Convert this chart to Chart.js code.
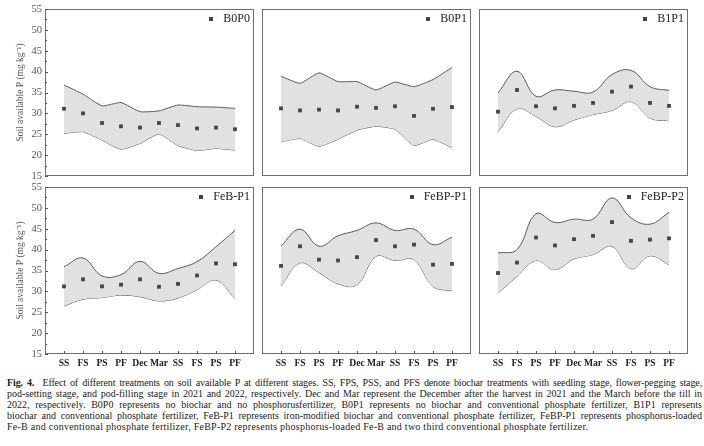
<!DOCTYPE html>
<html>
<head>
<meta charset="utf-8">
<script src="https://cdn.jsdelivr.net/npm/chart.js@4.4.1/dist/chart.umd.min.js"></script>
<style>
  html, body { margin: 0; padding: 0; background: #fff; }
  body { width: 704px; height: 446px; position: relative; overflow: hidden; }
  canvas { position: absolute; }
  #caption { position: absolute; left: 7px; top: 377px; width: 695px; font: 10px/11px "Liberation Serif", serif; color: #222; }
  #caption div { text-align: justify; text-align-last: justify; }
  #caption div.first { letter-spacing: -0.12px; }
  #caption div.last { text-align-last: left; letter-spacing: 0.25px; }
</style>
</head>
<body>
<div id="caption">
  <div class="first"><b>Fig. 4.</b>&nbsp; Effect of different treatments on soil available P at different stages. SS, FPS, PSS, and PFS denote biochar treatments with seedling stage, flower-pegging stage,</div>
  <div>pod-setting stage, and pod-filling stage in 2021 and 2022, respectively. Dec and Mar represent the December after the harvest in 2021 and the March before the till in</div>
  <div>2022, respectively. B0P0 represents no biochar and no phosphorusfertilizer, B0P1 represents no biochar and conventional phosphate fertilizer, B1P1 represents</div>
  <div>biochar and conventional phosphate fertilizer, FeB-P1 represents iron-modified biochar and conventional phosphate fertilizer, FeBP-P1 represents phosphorus-loaded</div>
  <div class="last">Fe-B and conventional phosphate fertilizer, FeBP-P2 represents phosphorus-loaded Fe-B and two third conventional phosphate fertilizer.</div>
</div>
<script>
// stages on the x axis (2021 season, winter, 2022 season)
const stages = ['SS', 'FS', 'PS', 'PF', 'Dec', 'Mar', 'SS', 'FS', 'PS', 'PF']
const treatments = ['B0P0', 'B0P1', 'B1P1', 'FeB-P1', 'FeBP-P1', 'FeBP-P2']

// soil available P (mg/kg): mean, upper and lower edge of the shaded band
const meanB0P0  = [31.1, 30.0, 27.7, 26.9, 26.6, 27.7, 27.2, 26.4, 26.6, 26.2]
const upperB0P0 = [36.8, 34.6, 31.8, 32.6, 30.4, 30.6, 32.0, 31.6, 31.5, 31.2]
const lowerB0P0 = [25.2, 25.6, 23.6, 21.4, 22.8, 25.1, 22.3, 21.1, 21.6, 21.2]

const meanB0P1  = [31.2, 30.7, 30.9, 30.7, 31.6, 31.3, 31.7, 29.4, 31.1, 31.5]
const upperB0P1 = [38.9, 37.2, 39.7, 37.6, 37.6, 35.6, 37.5, 36.4, 38.1, 41.0]
const lowerB0P1 = [23.2, 24.0, 22.1, 23.8, 26.0, 26.9, 26.2, 22.3, 23.8, 21.8]

const meanB1P1  = [30.4, 35.6, 31.7, 31.2, 31.8, 32.5, 35.2, 36.4, 32.5, 31.8]
const upperB1P1 = [34.9, 40.1, 34.1, 35.6, 35.3, 35.1, 39.3, 40.3, 36.4, 35.5]
const lowerB1P1 = [25.6, 31.1, 29.3, 26.8, 28.4, 29.7, 30.7, 32.8, 28.9, 28.2]

const meanFeBP1  = [31.2, 32.9, 31.2, 31.6, 32.9, 31.1, 31.8, 33.8, 36.7, 36.5]
const upperFeBP1 = [35.9, 38.0, 33.7, 34.0, 37.2, 34.3, 35.5, 37.1, 40.7, 44.6]
const lowerFeBP1 = [26.5, 28.1, 28.5, 29.1, 28.7, 27.7, 28.4, 30.4, 32.7, 28.3]

const meanFeBPP1  = [36.1, 40.8, 37.6, 37.4, 38.2, 42.3, 40.8, 41.2, 36.4, 36.6]
const upperFeBPP1 = [40.9, 44.9, 40.8, 43.3, 44.6, 46.4, 44.6, 44.9, 41.2, 43.0]
const lowerFeBPP1 = [31.3, 36.8, 34.5, 31.8, 31.6, 38.4, 37.4, 37.6, 31.2, 30.1]

const meanFeBPP2  = [34.4, 36.9, 42.9, 41.0, 42.5, 43.3, 46.6, 42.1, 42.4, 42.7]
const upperFeBPP2 = [39.2, 40.0, 48.6, 46.5, 47.3, 47.3, 52.4, 47.6, 46.1, 48.9]
const lowerFeBPP2 = [29.6, 33.6, 37.4, 35.2, 37.8, 38.8, 40.8, 35.4, 38.5, 36.4]

const yTitle = 'Soil available P (mg kg\u207B\u00B9)'

const series = [
  [meanB0P0, upperB0P0, lowerB0P0],
  [meanB0P1, upperB0P1, lowerB0P1],
  [meanB1P1, upperB1P1, lowerB1P1],
  [meanFeBP1, upperFeBP1, lowerFeBP1],
  [meanFeBPP1, upperFeBPP1, lowerFeBPP1],
  [meanFeBPP2, upperFeBPP2, lowerFeBPP2]
]

// plot rectangles on the page: left, top, right, bottom
const plotBoxes = [
  [45, 9, 254, 176], [262, 9, 471, 176], [479, 9, 688, 176],
  [45, 187, 254, 354], [262, 187, 471, 354], [479, 187, 688, 354]
]
const tensions = [0.15, 0.15, 0.4, 0.4, 0.4, 0.4]

const serif = 'Liberation Serif, Times New Roman, serif'
const markColor = '#454545'

// box around the plot, inward ticks and the one-entry legend in the corner
const framePlugin = {
  id: 'frame',
  afterDatasetsDraw(chart) {
    const { ctx, chartArea: a } = chart
    const { col, row, name } = chart.options.plugins.frame
    ctx.save()
    ctx.strokeStyle = '#6f6f6f'
    ctx.lineWidth = 1
    ctx.strokeRect(a.left + 0.5, a.top + 0.5, a.right - a.left - 1, a.bottom - a.top - 1)
    ctx.strokeStyle = '#555'
    ctx.beginPath()
    if (col === 0) {
      const ys = chart.scales.y
      for (let v = 15; v <= 55; v += 2.5) {
        const py = Math.round(ys.getPixelForValue(v)) + 0.5
        const len = v % 5 === 0 ? 3 : 2
        ctx.moveTo(a.left, py)
        ctx.lineTo(a.left + len, py)
      }
    }
    if (row === 1) {
      const xs = chart.scales.x
      stages.forEach((s, k) => {
        const px = Math.round(xs.getPixelForValue(k)) + 0.5
        ctx.moveTo(px, a.bottom)
        ctx.lineTo(px, a.bottom - 3)
      })
    }
    ctx.stroke()

    ctx.font = '12px ' + serif
    ctx.fillStyle = '#222'
    ctx.textAlign = 'right'
    ctx.textBaseline = 'middle'
    const ty = a.top + 10
    const tx = a.right - 4
    ctx.fillText(name, tx, ty)
    const textW = ctx.measureText(name).width
    ctx.fillStyle = markColor
    ctx.fillRect(Math.round(tx - textW - 14), Math.round(ty - 2), 4, 4)
    ctx.restore()
  }
}

function makePanel(i) {
  const col = i % 3
  const row = Math.floor(i / 3)
  const [l, t, r, b] = plotBoxes[i]
  const [mean, upper, lower] = series[i]
  const tension = tensions[i]

  const canvas = document.createElement('canvas')
  const left = l - 45
  const top = t - 9
  const w = r - l + 45 + 10
  const h = b - t + 9 + 20
  canvas.width = w
  canvas.height = h
  canvas.style.left = left + 'px'
  canvas.style.top = top + 'px'
  canvas.style.width = w + 'px'
  canvas.style.height = h + 'px'
  document.body.appendChild(canvas)

  const yW = col === 0 ? 45 : 0
  const xH = row === 1 ? 20 : 0
  const toPoints = arr => arr.map((v, k) => ({ x: k, y: v }))

  return new Chart(canvas, {
    type: 'line',
    data: {
      datasets: [
        {
          label: treatments[i],
          data: toPoints(mean),
          showLine: false,
          pointStyle: 'rect',
          pointRadius: 2.7,
          pointBackgroundColor: markColor,
          pointBorderColor: markColor,
          pointBorderWidth: 0,
          backgroundColor: markColor,
          borderColor: markColor,
          fill: false,
          order: 0
        },
        {
          label: 'upper',
          data: toPoints(upper),
          borderColor: '#5a5a5a',
          borderWidth: 1,
          backgroundColor: '#e1e1e1',
          pointRadius: 0,
          tension: tension,
          fill: '+1',
          order: 1
        },
        {
          label: 'lower',
          data: toPoints(lower),
          borderColor: '#5a5a5a',
          borderWidth: 1,
          pointRadius: 0,
          tension: tension,
          fill: false,
          order: 2
        }
      ]
    },
    options: {
      responsive: false,
      animation: false,
      layout: { padding: { left: 45 - yW, top: 9, right: 10, bottom: 20 - xH } },
      scales: {
        x: {
          type: 'linear',
          min: -1,
          max: 10,
          grid: { display: false, drawTicks: false },
          border: { display: false },
          afterBuildTicks: s => { s.ticks = stages.map((_, k) => ({ value: k })) },
          ticks: {
            display: row === 1,
            autoSkip: false,
            maxRotation: 0,
            padding: 4,
            color: '#1e1e1e',
            font: { family: serif, size: 9.6, weight: 'bold' },
            callback: v => stages[v]
          },
          afterFit: s => { s.height = xH; s.paddingLeft = 0; s.paddingRight = 0 }
        },
        y: {
          min: 15,
          max: 55,
          grid: { display: false, drawTicks: false },
          border: { display: false },
          ticks: {
            display: col === 0,
            stepSize: 5,
            padding: 3,
            color: '#555',
            font: { family: serif, size: 10.5 }
          },
          title: {
            display: col === 0,
            text: yTitle,
            color: '#555',
            padding: { top: 15, bottom: 0 },
            font: { family: serif, size: 9.5 }
          },
          afterFit: s => { s.width = yW; s.paddingTop = 0; s.paddingBottom = 0 }
        }
      },
      plugins: {
        frame: { col: col, row: row, name: treatments[i] },
        tooltip: { enabled: false },
        legend: { display: false }
      }
    },
    plugins: [framePlugin]
  })
}

treatments.forEach((_, i) => makePanel(i))
</script>
</body>
</html>
